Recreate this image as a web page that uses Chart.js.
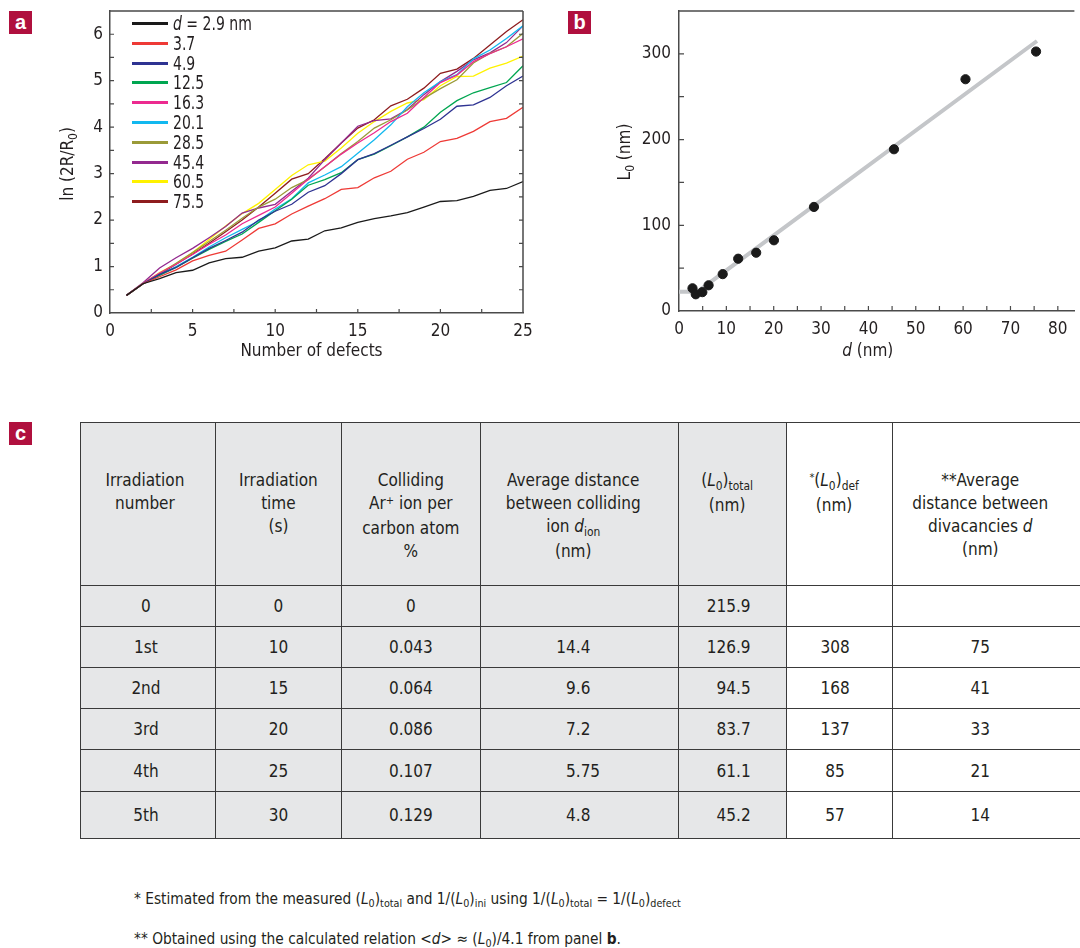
<!DOCTYPE html>
<html><head><meta charset="utf-8">
<script src="https://cdn.jsdelivr.net/npm/chart.js@4.4.0/dist/chart.umd.min.js"></script>
<style>
html,body{margin:0;padding:0;background:#fff;width:1080px;height:948px;overflow:hidden;}
body{position:relative;font-family:"Liberation Sans Narrow","DejaVu Sans Condensed","Roboto Condensed",sans-serif;color:#231f20;}
.badge{position:absolute;width:23px;height:23px;background:#b0103e;color:#fff;font:bold 20px "Liberation Sans",Arial,sans-serif;text-align:center;line-height:22px;}
canvas{position:absolute;}
#legendA{position:absolute;left:0;top:0;}
.li{position:absolute;left:132px;height:20px;font-size:19px;line-height:20px;white-space:nowrap;}
.li span.sw{position:absolute;left:0;top:9px;width:36px;height:3px;}
.li span.tx{position:absolute;left:41px;top:0;transform:scaleX(0.82);transform-origin:left center;}
#tbl{position:absolute;left:80px;top:422px;border-collapse:collapse;table-layout:fixed;font-size:17px;}
#tbl td{border:1.5px solid #3a3a3a;padding:0;text-align:center;vertical-align:middle;}
#tbl tr td:last-child{border-right:none;}
#tbl tr.hd td{vertical-align:top;padding-top:46px;line-height:23px;}
#tbl td.g{background:#e6e7e8;}
sub{font-size:70%;vertical-align:baseline;position:relative;top:0.3em;}
sup{font-size:65%;vertical-align:baseline;position:relative;top:-0.45em;}
.ip{display:inline-block;width:22px;text-align:right;}
.foot{position:absolute;left:134px;font-size:15.3px;white-space:nowrap;}
</style></head>
<body>
<div class="badge" style="left:9px;top:11px">a</div>
<div class="badge" style="left:568px;top:11px">b</div>
<div class="badge" style="left:9px;top:422px">c</div>
<canvas id="ca" width="540" height="370" style="left:0;top:0;width:540px;height:370px"></canvas>
<canvas id="cb" width="520" height="370" style="left:560px;top:0;width:520px;height:370px"></canvas>
<div id="legendA"></div>
<table id="tbl"></table>
<div class="foot" style="top:890px">* Estimated from the measured (<i>L</i><sub>0</sub>)<sub>total</sub> and 1/(<i>L</i><sub>0</sub>)<sub>ini</sub> using 1/(<i>L</i><sub>0</sub>)<sub>total</sub> = 1/(<i>L</i><sub>0</sub>)<sub>defect</sub></div>
<div class="foot" style="top:930px">** Obtained using the calculated relation &lt;<i>d</i>&gt; &asymp; (<i>L</i><sub>0</sub>)/4.1 from panel <b>b</b>.</div>
<script>
// ---------- DATA ----------
const defects = [1,2,3,4,5,6,7,8,9,10,11,12,13,14,15,16,17,18,19,20,21,22,23,24,25];
const seriesLabels = ['2.9','3.7','4.9','12.5','16.3','20.1','28.5','45.4','60.5','75.5'];
const seriesColors = ['#1a1a1a','#ee3a36','#2e3392','#00a651','#ec2a8f','#12b8ef','#9a9a38','#93298f','#fff200','#8e1c1e'];
const d29  = [0.38,0.63,0.74,0.87,0.92,1.08,1.17,1.20,1.33,1.40,1.55,1.59,1.77,1.83,1.95,2.03,2.09,2.16,2.28,2.40,2.42,2.51,2.64,2.68,2.83];
const d37  = [0.38,0.63,0.78,0.93,1.12,1.24,1.33,1.57,1.82,1.92,2.13,2.30,2.46,2.66,2.70,2.91,3.05,3.31,3.46,3.69,3.76,3.91,4.12,4.19,4.43];
const d49  = [0.38,0.63,0.83,0.98,1.19,1.39,1.56,1.74,2.00,2.19,2.34,2.60,2.74,3.00,3.30,3.43,3.61,3.79,3.97,4.17,4.45,4.48,4.64,4.89,5.10];
const d125 = [0.38,0.63,0.81,0.98,1.18,1.37,1.54,1.70,1.95,2.20,2.45,2.75,2.87,3.02,3.30,3.42,3.60,3.79,4.00,4.32,4.57,4.74,4.85,4.96,5.32];
const d163 = [0.38,0.64,0.86,1.05,1.26,1.48,1.68,1.92,2.10,2.28,2.58,2.88,3.15,3.42,3.66,3.88,4.12,4.30,4.64,4.96,5.12,5.41,5.58,5.73,5.90];
const d201 = [0.38,0.63,0.82,1.00,1.20,1.42,1.62,1.80,1.98,2.24,2.46,2.80,2.97,3.15,3.44,3.73,4.05,4.44,4.74,4.98,5.13,5.47,5.66,5.91,6.18];
const d285 = [0.38,0.64,0.85,1.07,1.30,1.54,1.78,2.04,2.28,2.45,2.70,2.87,3.15,3.43,3.69,3.98,4.16,4.37,4.62,4.83,5.02,5.38,5.59,5.73,6.02];
const d454 = [0.38,0.65,0.97,1.19,1.39,1.62,1.86,2.15,2.26,2.34,2.62,2.90,3.30,3.66,4.02,4.14,4.18,4.38,4.70,4.98,5.20,5.45,5.60,5.82,6.18];
const d605 = [0.38,0.63,0.87,1.06,1.30,1.58,1.87,2.14,2.36,2.66,2.96,3.19,3.27,3.55,3.87,4.12,4.34,4.52,4.59,4.89,5.09,5.10,5.27,5.38,5.53];
const d755 = [0.38,0.63,0.83,1.05,1.27,1.50,1.75,2.00,2.28,2.58,2.88,3.00,3.32,3.66,3.98,4.16,4.46,4.60,4.84,5.16,5.25,5.48,5.77,6.06,6.31];
const aXTicks = [0,5,10,15,20,25];
const aYTicks = [0,1,2,3,4,5,6];
const aXMinor = [2.5,5,7.5,10,12.5,15,17.5,20,22.5];
const aYMinor = [0.5,1,1.5,2,2.5,3,3.5,4,4.5,5,5.5,6];

const bD  = [2.85,3.54,4.93,6.25,9.23,12.5,16.3,20.05,28.5,45.4,60.5,75.4];
const bL0 = [26.5,19.5,22,30,43,61,68,82.5,121.4,188.7,270.4,302.7];
const fitD = [0,3.9,75.6];
const fitL = [22.5,22.5,315];
const bXTicks = [0,10,20,30,40,50,60,70,80];
const bYTicks = [0,100,200,300];
const bXMinor = [5,10,15,20,25,30,35,40,45,50,55,60,65,70,75,80];
const bYMinor = [50,100,150,200,250,300];

const irrNumber = ['0','1st','2nd','3rd','4th','5th'];
const irrTime   = ['0','10','15','20','25','30'];
const arPct     = ['0','0.043','0.064','0.086','0.107','0.129'];
const dIon      = ['','14.4','9.6','7.2','5.75','4.8'];
const L0total   = ['215.9','126.9','94.5','83.7','61.1','45.2'];
const L0def     = ['','308','168','137','85','57'];
const dDiv      = ['','75','41','33','21','14'];

// ---------- STYLE ----------
const FONT = '"Liberation Sans Narrow","DejaVu Sans Condensed","Roboto Condensed",sans-serif';
const TXT = '#231f20';
const AX = '#4a4a4a';

function segFont(s,size){return (s.i?'italic ':'')+(s.sub?Math.round(size*0.68):size)+'px '+FONT;}
function richTitles(items){
  return {id:'richTitles', afterDraw(chart){
    const ctx=chart.ctx, a=chart.chartArea;
    items.forEach(it=>{
      ctx.save();
      let cx,cy;
      if(it.axis==='x'){cx=(a.left+a.right)/2+it.dx; cy=a.bottom+it.dy;}
      else {cx=a.left-it.dx; cy=(a.top+a.bottom)/2+it.dy;}
      ctx.translate(cx,cy);
      if(it.axis==='y') ctx.rotate(-Math.PI/2);
      let w=0; it.segs.forEach(s=>{ctx.font=segFont(s,it.size); w+=ctx.measureText(s.t).width;});
      let x=-w/2; const base=it.size*0.36;
      ctx.fillStyle=TXT; ctx.textBaseline='alphabetic'; ctx.textAlign='left';
      it.segs.forEach(s=>{ctx.font=segFont(s,it.size); ctx.fillText(s.t,x,base+(s.sub?it.size*0.25:0)); x+=ctx.measureText(s.t).width;});
      ctx.restore();
    });
  }};
}
function frameTicks(xs,ys,len,right){
  return {id:'frameTicks', afterDatasetsDraw(chart){
    const {ctx,chartArea:a,scales:{x,y}}=chart;
    ctx.save(); ctx.strokeStyle=AX; ctx.lineWidth=1.5; ctx.beginPath();
    ctx.moveTo(a.left,a.top); ctx.lineTo(a.right,a.top);
    if(right){ctx.moveTo(a.right,a.top); ctx.lineTo(a.right,a.bottom);}
    ctx.stroke();
    ctx.lineWidth=1.2; ctx.beginPath();
    xs.forEach(v=>{const p=x.getPixelForValue(v); ctx.moveTo(p,a.bottom); ctx.lineTo(p,a.bottom-len);});
    ys.forEach(v=>{const p=y.getPixelForValue(v); ctx.moveTo(a.left,p); ctx.lineTo(a.left+len,p);
      if(right){ctx.moveTo(a.right,p); ctx.lineTo(a.right-len,p);} });
    ctx.stroke(); ctx.restore();
  }};
}
function axisCfg(min,max,ticks,fit,isX,pad){
  return {type:'linear',min:min,max:max,
    afterBuildTicks:s=>{s.ticks=ticks.map(v=>({value:v}));},
    afterFit:s=>{ if(isX) s.height=fit; else s.width=fit; s.paddingTop=0; s.paddingBottom=0; s.paddingLeft=0; s.paddingRight=0; },
    grid:{display:false,drawTicks:false},
    border:{display:true,color:AX,width:1.5},
    ticks:{padding:pad,color:TXT,font:{family:FONT,size:17},maxRotation:0,autoSkip:false}
  };
}

// ---------- CHART A ----------
const aSeries=[d29,d37,d49,d125,d163,d201,d285,d454,d605,d755];
new Chart(document.getElementById('ca'),{
  type:'line',
  data:{labels:defects,
    datasets:aSeries.map((arr,i)=>({label:seriesLabels[i],data:arr.map((v,j)=>({x:defects[j],y:v})),
      borderColor:seriesColors[i],backgroundColor:seriesColors[i],borderWidth:1.3,pointRadius:0,tension:0,fill:false}))},
  options:{responsive:false,animation:false,devicePixelRatio:1,
    layout:{padding:{left:0,top:11,right:17,bottom:0}},
    plugins:{legend:{display:false},tooltip:{enabled:false}},
    scales:{x:axisCfg(0,25,aXTicks,57,true,8), y:axisCfg(0,6.5,aYTicks,110,false,7)}
  },
  plugins:[frameTicks(aXMinor,aYMinor,4,true), richTitles([
    {axis:'x',dx:-5,dy:37,size:17,segs:[{t:'Number of defects'}]},
    {axis:'y',dx:43,dy:2,size:17,segs:[{t:'ln (2R/R'},{t:'0',sub:1},{t:')'}]}
  ])]
});
// legend
const lg=document.getElementById('legendA');
seriesLabels.forEach((l,i)=>{
  const d=document.createElement('div'); d.className='li'; d.style.top=(13+i*19.8)+'px';
  d.innerHTML='<span class="sw" style="background:'+seriesColors[i]+'"></span><span class="tx">'+(i===0?'<i>d</i> = '+l+' nm':l)+'</span>';
  lg.appendChild(d);
});

// ---------- CHART B ----------
new Chart(document.getElementById('cb'),{
  type:'scatter',
  data:{datasets:[
    {type:'line',label:'fit',data:fitD.map((v,i)=>({x:v,y:fitL[i]})),borderColor:'#c4c6c9',borderWidth:4,pointRadius:0,tension:0,order:2},
    {type:'scatter',label:'L0',data:bD.map((v,i)=>({x:v,y:bL0[i]})),backgroundColor:'#1a1a1a',borderColor:'#1a1a1a',pointRadius:4.6,order:1}
  ]},
  options:{responsive:false,animation:false,devicePixelRatio:1,
    layout:{padding:{left:0,top:11,right:0,bottom:0}},
    plugins:{legend:{display:false},tooltip:{enabled:false}},
    scales:{x:axisCfg(0,83.5,bXTicks,59,true,8), y:axisCfg(0,350,bYTicks,119,false,8)}
  },
  plugins:[frameTicks(bXMinor,bYMinor,5,false), richTitles([
    {axis:'x',dx:-9,dy:39,size:17,segs:[{t:'d',i:1},{t:' (nm)'}]},
    {axis:'y',dx:55,dy:-9,size:17,segs:[{t:'L'},{t:'0',sub:1},{t:' (nm)'}]}
  ])]
});

// ---------- TABLE C ----------
const colW=[135,126,139,198,108,106,188];
const tbl=document.getElementById('tbl');
let html='<colgroup>'+colW.map(w=>'<col style="width:'+w+'px">').join('')+'</colgroup>';
html+='<tr class="hd" style="height:163px">'+
  '<td class="g" style="padding-right:6px">Irradiation<br>number</td>'+
  '<td class="g">Irradiation<br>time<br>(s)</td>'+
  '<td class="g">Colliding<br>Ar<sup>+</sup> ion per<br>carbon atom<br>%</td>'+
  '<td class="g" style="padding-right:12px">Average distance<br>between colliding<br>ion <i>d</i><sub>ion</sub><br>(nm)</td>'+
  '<td class="g" style="padding-right:10px">(<i>L</i><sub>0</sub>)<sub>total</sub><br>(nm)</td>'+
  '<td style="padding-right:10px"><sup>*</sup>(<i>L</i><sub>0</sub>)<sub>def</sub><br>(nm)</td>'+
  '<td style="padding-right:12px">**Average<br>distance between<br>divacancies <i>d</i><br>(nm)</td></tr>';
const rowH=[41,41,41,41,42,47];
function dec(s){ if(!s) return ''; const p=s.split('.'); return '<span class="ip">'+p[0]+'</span>'+(p.length>1?'.'+p[1]:''); }
for(let r=0;r<irrNumber.length;r++){
  html+='<tr style="height:'+rowH[r]+'px">'+
   '<td class="g" style="padding-right:4px">'+irrNumber[r]+'</td>'+
   '<td class="g">'+irrTime[r]+'</td>'+
   '<td class="g">'+arPct[r]+'</td>'+
   '<td class="g" style="text-align:left;padding-left:73px">'+dec(dIon[r])+'</td>'+
   '<td class="g" style="text-align:right;padding-right:35px">'+L0total[r]+'</td>'+
   '<td style="padding-right:8px">'+L0def[r]+'</td>'+
   '<td style="padding-right:12px">'+dDiv[r]+'</td></tr>';
}
tbl.innerHTML=html;
</script>
</body></html>
